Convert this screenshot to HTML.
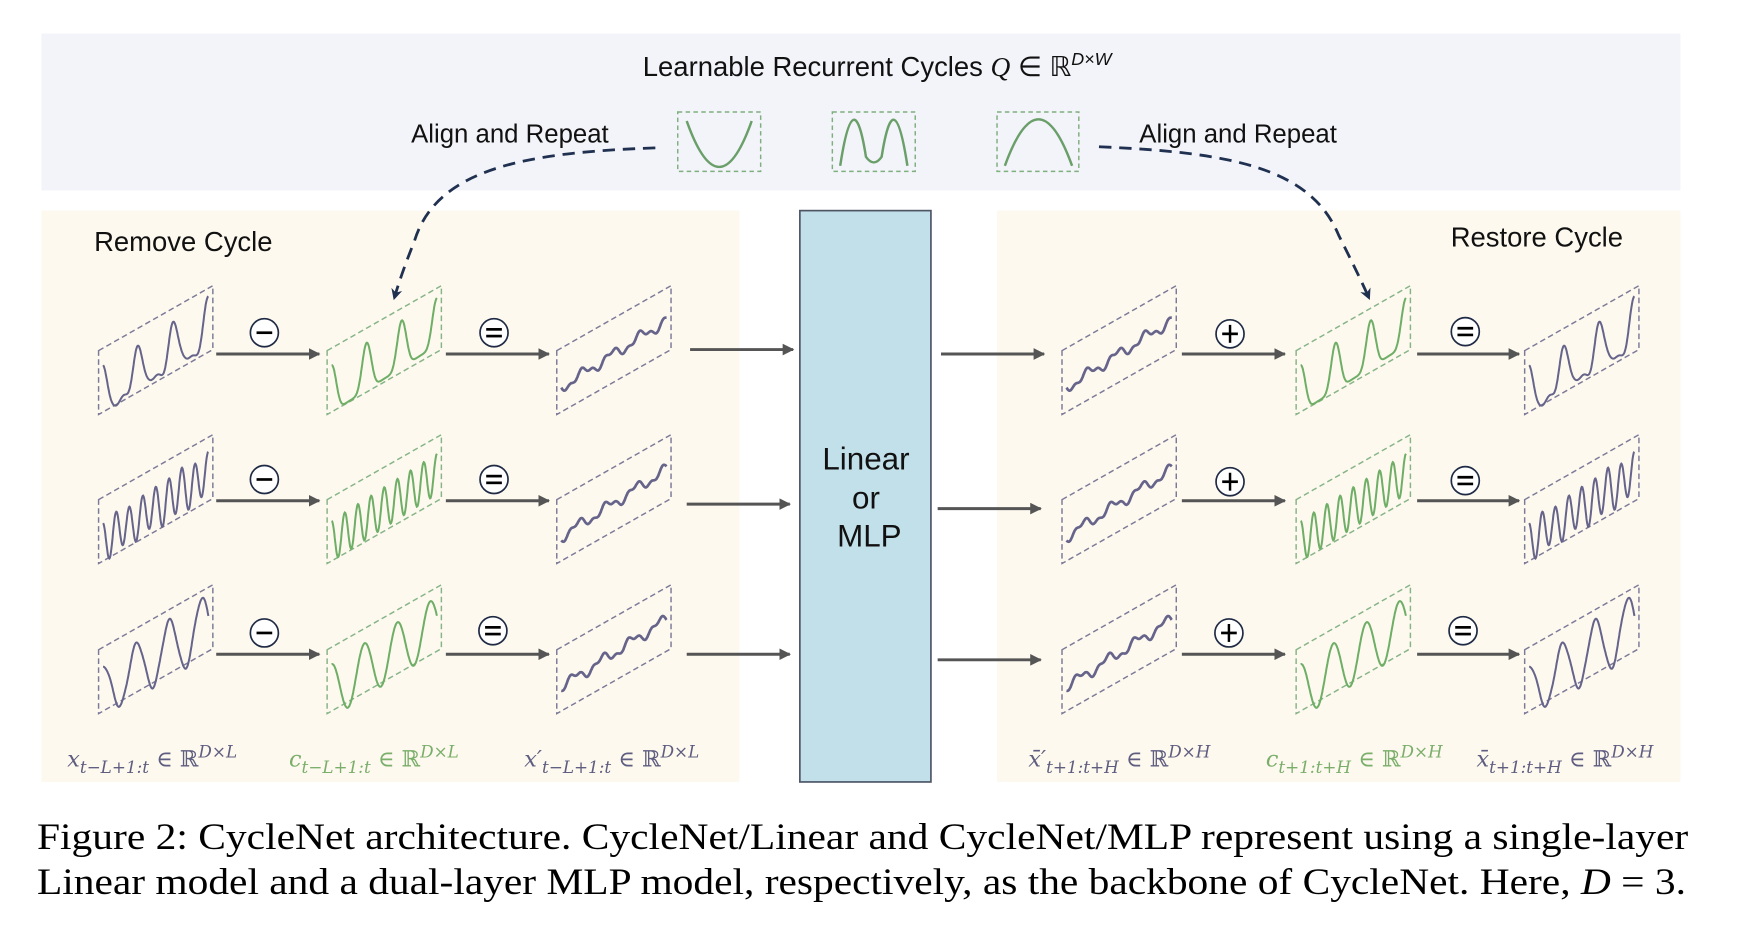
<!DOCTYPE html>
<html><head><meta charset="utf-8">
<style>
html,body{margin:0;padding:0;background:#fff;}
svg{display:block;}
.sans{font-family:"Liberation Sans",Arial,sans-serif;}
.serif{font-family:"Liberation Serif","Times New Roman",serif;}
</style></head>
<body>
<svg id="s" width="1756" height="950" viewBox="0 0 1567.5 848" preserveAspectRatio="none" xmlns="http://www.w3.org/2000/svg">
<defs>
<marker id="ah" viewBox="0 0 10 10" refX="9" refY="5" markerWidth="4" markerHeight="4" orient="auto"><path d="M0,0 L10,5 L0,10 z" fill="#555"/></marker>
<marker id="ah2" viewBox="0 0 10 10" refX="8" refY="5" markerWidth="4" markerHeight="4" orient="auto"><path d="M0,0 L10,5 L0,10 L3,5 z" fill="#1f3050"/></marker>
</defs>
<rect x="37" y="30" width="1463" height="140" fill="#f3f4f9"/>
<rect x="37" y="188" width="623" height="510" fill="#fdf9ef"/>
<rect x="890" y="188" width="610" height="510" fill="#fdf9ef"/>
<rect x="714" y="188" width="117" height="510" fill="#c2e0e9" stroke="#4d5566" stroke-width="1.5"/>
<text class="sans" x="783" y="68" font-size="24.5" text-anchor="middle" fill="#111">Learnable Recurrent Cycles <tspan class="serif" font-style="italic">Q</tspan> ∈ ℝ<tspan font-size="16" dy="-10" font-style="italic">D×W</tspan></text>
<text class="sans" x="367" y="127" font-size="23" fill="#111">Align and Repeat</text>
<text class="sans" x="1017" y="127" font-size="23" fill="#111">Align and Repeat</text>
<text class="sans" x="84" y="224" font-size="24.5" fill="#111">Remove Cycle</text>
<text class="sans" x="1295" y="220" font-size="24.5" fill="#111">Restore Cycle</text>
<text class="sans" x="773" y="419" font-size="28" text-anchor="middle" fill="#111">Linear</text>
<text class="sans" x="773" y="454" font-size="28" text-anchor="middle" fill="#111">or</text>
<text class="sans" x="776" y="488" font-size="28" text-anchor="middle" fill="#111">MLP</text>
<g fill="none" stroke="#7fae7f" stroke-width="1.3" stroke-dasharray="4,3">
<rect x="605" y="100" width="74" height="53"/><rect x="743" y="100" width="74" height="53"/><rect x="890" y="100" width="73" height="53"/>
</g>
<g fill="none" stroke="#6a9f6a" stroke-width="2.2">
<path d="M613,108 Q642,190 671,108"/>
<path d="M750,148 Q762,70 773,140 Q780,150 787,140 Q798,70 810,148"/>
<path d="M897,148 Q927,65 957,148"/>
</g>
<g fill="none" stroke="#1f3050" stroke-width="2.5" stroke-dasharray="11,7">
<path d="M585,132 C470,136 390,150 370,215 C362,235 356,252 352,266" marker-end="url(#ah2)"/>
<path d="M981,131 C1100,136 1170,150 1195,210 C1205,230 1215,250 1222,266" marker-end="url(#ah2)"/>
</g>
<g id="waves"></g>
<g id="arrows" stroke="#555" stroke-width="2.6" marker-end="url(#ah)"></g>
<g id="ops"></g>
<g font-family="'DejaVu Serif','Liberation Serif',serif" font-style="italic" font-size="20">
<text x="60" y="684" fill="#5f5d80">x<tspan font-size="15" dy="6">t−L+1:t</tspan><tspan dy="-6" font-style="normal"> ∈ ℝ</tspan><tspan font-size="15" dy="-8">D×L</tspan></text>
<text x="258" y="684" fill="#7aae6a">c<tspan font-size="15" dy="6">t−L+1:t</tspan><tspan dy="-6" font-style="normal"> ∈ ℝ</tspan><tspan font-size="15" dy="-8">D×L</tspan></text>
<text x="468" y="684" fill="#5f5d80">x′<tspan font-size="15" dy="6">t−L+1:t</tspan><tspan dy="-6" font-style="normal"> ∈ ℝ</tspan><tspan font-size="15" dy="-8">D×L</tspan></text>
<text x="918" y="684" fill="#5f5d80">x̄′<tspan font-size="15" dy="6">t+1:t+H</tspan><tspan dy="-6" font-style="normal"> ∈ ℝ</tspan><tspan font-size="15" dy="-8">D×H</tspan></text>
<text x="1130" y="684" fill="#7aae6a">c<tspan font-size="15" dy="6">t+1:t+H</tspan><tspan dy="-6" font-style="normal"> ∈ ℝ</tspan><tspan font-size="15" dy="-8">D×H</tspan></text>
<text x="1318" y="684" fill="#5f5d80">x̄<tspan font-size="15" dy="6">t+1:t+H</tspan><tspan dy="-6" font-style="normal"> ∈ ℝ</tspan><tspan font-size="15" dy="-8">D×H</tspan></text>
</g>
<text class="serif" x="33" y="758" font-size="33" fill="#000" textLength="1474" lengthAdjust="spacingAndGlyphs">Figure 2: CycleNet architecture. CycleNet/Linear and CycleNet/MLP represent using a single-layer</text>
<text class="serif" x="33" y="798" font-size="33" fill="#000" textLength="1472" lengthAdjust="spacingAndGlyphs">Linear model and a dual-layer MLP model, respectively, as the backbone of CycleNet. Here, <tspan font-style="italic">D</tspan> = 3.</text>
</svg>
<script>
var NS="http://www.w3.org/2000/svg";
function el(t,a,p){var e=document.createElementNS(NS,t);for(var k in a)e.setAttribute(k,a[k]);p.appendChild(e);return e;}
var W=document.getElementById('waves'),A=document.getElementById('arrows'),O=document.getElementById('ops');
var cols=[88,292,497,948,1157,1361],rows=[255,388,522];
var PU="#66648a",GR="#6fae66";
var cyc=[3,8,3.2];
function wave(x0,y0,type,r,color){
  var d="";
  for(var i=0;i<=200;i++){
    var u=i/200,x=x0+4+u*94,base=y0+95-u*60,y;
    var ph=u*cyc[r]*2*Math.PI;
    var c;
    if(r==0){var s=(Math.cos(ph)+1)/2;c=-Math.pow(s,3)*42+18;}
    else if(r==1){c=-Math.cos(ph)*18;}
    else{c=-Math.cos(ph)*24;}
    var tr=Math.sin(u*23+r)*4+Math.sin(u*57)*2;
    if(type=='c')y=base+c; else if(type=='t')y=base-4+tr; else y=base+c+tr*0.6;
    d+=(i?"L":"M")+x.toFixed(1)+","+y.toFixed(1);
  }
  el('path',{d:d,fill:'none',stroke:color,'stroke-width':type=='t'?2.4:1.8},W);
}
var types=['x','c','t','t','c','x'];
cols.forEach(function(cx,ci){rows.forEach(function(ry,ri){
  var g=types[ci]=='c';
  el('path',{d:"M"+cx+","+(ry+58)+" L"+(cx+102)+","+ry+" L"+(cx+102)+","+(ry+57)+" L"+cx+","+(ry+115)+" Z",fill:'none',stroke:g?'#86b486':'#7c7a98','stroke-width':1.3,'stroke-dasharray':'5,3'},W);
  wave(cx,ry,types[ci],ri,g?GR:PU);
});});
var ay=[316,447,584];
function ar(x1,x2,y){el('line',{x1:x1,y1:y,x2:x2,y2:y},A);}
ay.forEach(function(y){ar(193,285,y);ar(398,490,y);ar(1055,1147,y);ar(1265,1356,y);});
ar(616,708,312);ar(613,705,450);ar(613,705,584);
ar(840,932,316);ar(837,929,454);ar(837,929,589);
function op(x,y,t){el('circle',{cx:x,cy:y,r:12.5,fill:'#fff',stroke:'#1f2a44','stroke-width':1.5},O);
 el('line',{x1:x-7,y1:y,x2:x+7,y2:y,stroke:'#000','stroke-width':2.4},O);
 if(t=='='){O.lastChild.setAttribute('y1',y-3);O.lastChild.setAttribute('y2',y-3);el('line',{x1:x-7,y1:y+3,x2:x+7,y2:y+3,stroke:'#000','stroke-width':2.4},O);}
 if(t=='+')el('line',{x1:x,y1:y-8,x2:x,y2:y+8,stroke:'#000','stroke-width':2.2},O);}
op(236,297,'-');op(441,297,'=');op(236,428,'-');op(441,428,'=');op(236,565,'-');op(440,563,'=');
op(1098,298,'+');op(1308,296,'=');op(1098,430,'+');op(1308,429,'=');op(1097,565,'+');op(1306,563,'=');
</script>
</body></html>
